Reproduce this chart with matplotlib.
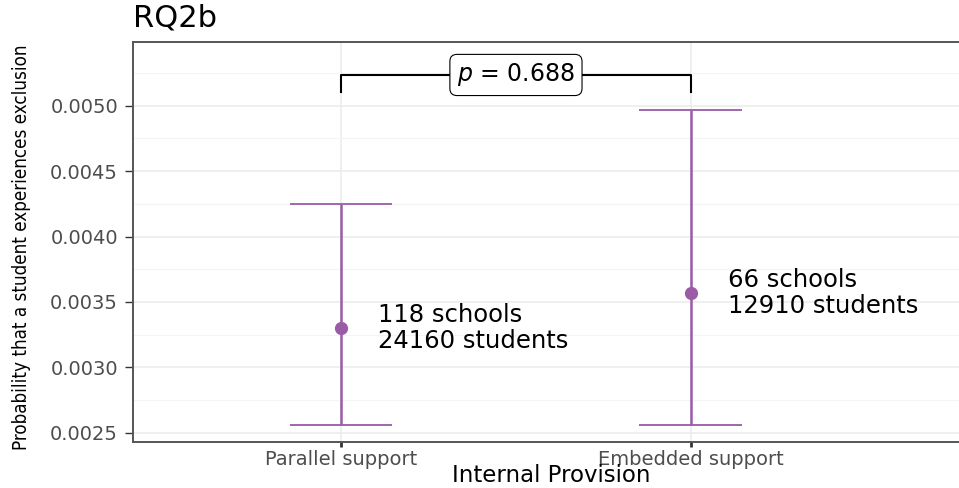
import matplotlib
matplotlib.use("Agg")
import matplotlib.pyplot as plt
from matplotlib.ticker import MultipleLocator

# ---- data ----
categories = ["Parallel support", "Embedded support"]
estimate = [0.00330, 0.003568]
lower = [0.002559, 0.002559]
upper = [0.004248, 0.004967]
n_schools = [118, 66]
n_students = [24160, 12910]
p_value = 0.688
bracket_y = 0.005235
bracket_tip = 0.005105

purple = "#9A5BA7"
W, H = 959, 488
fig = plt.figure(figsize=(W / 100, H / 100), dpi=100)
font = ["DejaVu Sans"]

left, right, top, bottom = 133, 959, 42, 442
ax = fig.add_axes([left / W, 1 - bottom / H, (right - left) / W, (bottom - top) / H])

x = list(range(1, len(categories) + 1))
ax.set_xlim(0.4057, 2.766)
ax.set_ylim(0.002429, 0.005487)

# grid
ax.yaxis.set_major_locator(MultipleLocator(0.0005))
ax.yaxis.set_minor_locator(MultipleLocator(0.00025))
ax.set_xticks(x)
ax.set_xticklabels(categories)
ax.grid(which="major", color="#EBEBEB", lw=1.1)
ax.grid(which="minor", axis="y", color="#F4F4F4", lw=0.8)
ax.set_axisbelow(True)
ax.yaxis.set_major_formatter(matplotlib.ticker.FuncFormatter(lambda v, _: f"{v:.4f}"))

for s in ["left", "top", "bottom"]:
    ax.spines[s].set_color("#555555")
    ax.spines[s].set_linewidth(1.4)
ax.spines["right"].set_visible(False)

ax.tick_params(axis="y", which="major", length=5.8, width=1.0, color="#333333",
               labelcolor="#4D4D4D", labelsize=14, pad=5)
ax.tick_params(axis="y", which="minor", length=0)
ax.tick_params(axis="x", which="major", length=3.3, width=2.0, color="#333333",
               labelcolor="#4D4D4D", labelsize=14, pad=2.5)
for lab in ax.get_xticklabels() + ax.get_yticklabels():
    lab.set_family(font)

# error bars
cap_half = 0.147
ax.vlines(x, lower, upper, color=purple, lw=1.8, zorder=3)
ax.hlines(lower, [xi - cap_half for xi in x], [xi + cap_half for xi in x], color=purple, lw=1.3, zorder=3)
ax.hlines(upper, [xi - cap_half for xi in x], [xi + cap_half for xi in x], color=purple, lw=1.3, zorder=3)
ax.plot(x, estimate, "o", color=purple, ms=8.5, zorder=4)

# labels
for xi, est, sc, st in zip(x, estimate, n_schools, n_students):
    ax.text(xi + 0.105, est, f"{sc} schools\n{st} students", ha="left", va="center",
            fontsize=17.5, family=font, color="black", linespacing=1.1)

# bracket
ax.plot([x[0], x[0], x[1], x[1]], [bracket_tip, bracket_y, bracket_y, bracket_tip],
        color="black", lw=1.5, zorder=3)
ax.text((x[0] + x[1]) / 2, bracket_y, f"$p$ = {p_value:.3f}", ha="center", va="center",
        fontsize=17, family=font, zorder=5,
        bbox=dict(boxstyle="round,pad=0.3,rounding_size=0.3", fc="white", ec="black", lw=0.8))

# titles
fig.text(133 / W, 1 - 27 / H, "RQ2b", ha="left", va="baseline", fontsize=22, family=font)
fig.text(551 / W, 1 - 482 / H, "Internal Provision", ha="center", va="baseline",
         fontsize=16.5, family=font)
ylab = fig.text(22 / W, 1 - 247 / H, "Probability that a student experiences exclusion",
                rotation=90, ha="center", va="center", fontsize=16, family=font,
                fontstretch="condensed")

# fit y label length to the panel height (~408 px)
fig.canvas.draw()
ext = ylab.get_window_extent()
target = 408.0
if ext.height > 0:
    ylab.set_fontsize(16 * target / ext.height)

fig.savefig("out.png", dpi=100)
